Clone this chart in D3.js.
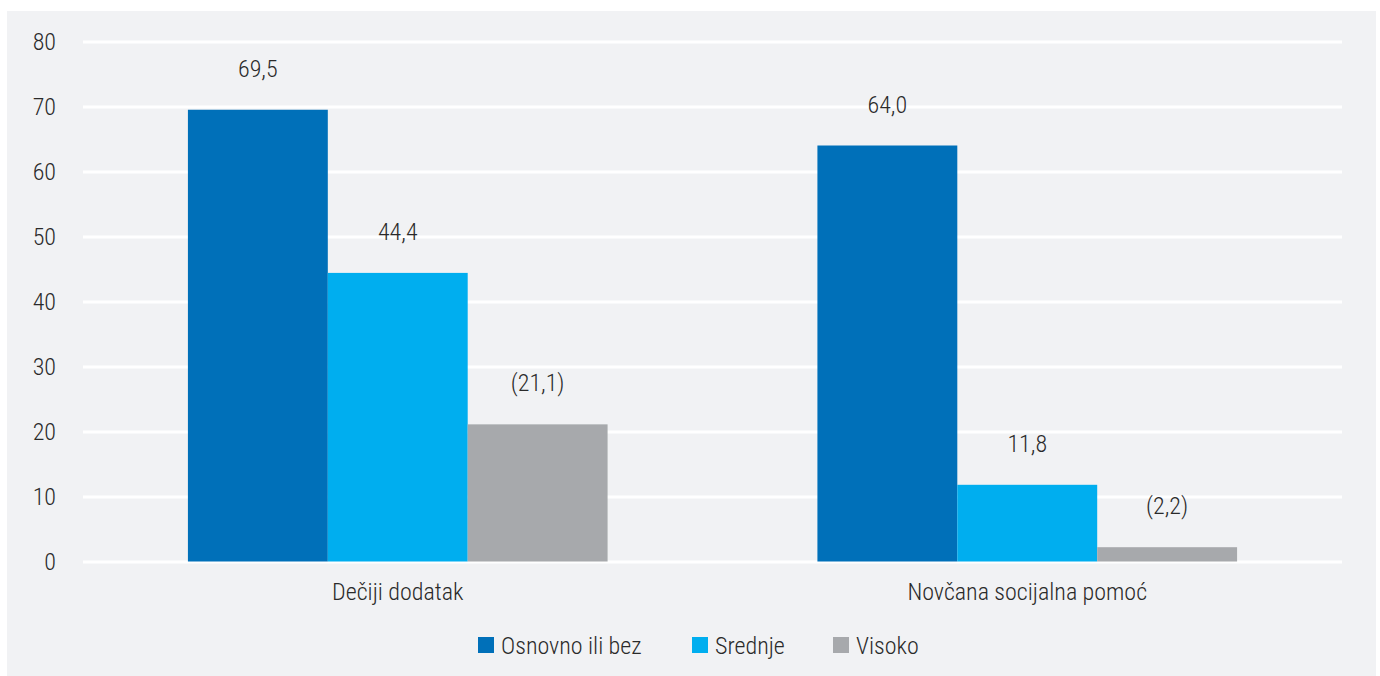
<!DOCTYPE html>
<html>
<head>
<meta charset="utf-8">
<script src="https://cdn.jsdelivr.net/npm/d3@7"></script>
<style>
  body { margin: 0; background: #fff; }
  svg text { font-family: "Roboto Condensed", "Liberation Sans Narrow", "DejaVu Sans Condensed", Roboto, sans-serif; font-weight: 300; fill: #2a2a2a; }
</style>
</head>
<body>
<svg id="chart" width="1380" height="676"></svg>
<script>
var categories = ["Dečiji dodatak", "Novčana socijalna pomoć"];
var series = ["Osnovno ili bez", "Srednje", "Visoko"];
var colors = ["#0070b9", "#00aeef", "#a7a9ac"];
var values = [
  [69.5, 44.4, 21.1],
  [64.0, 11.8, 2.2]
];
var labels = [
  ["69,5", "44,4", "(21,1)"],
  ["64,0", "11,8", "(2,2)"]
];
var yTicks = [0, 10, 20, 30, 40, 50, 60, 70, 80];
var fs = "24px";

var svg = d3.select("#chart");

// panel background
svg.append("rect")
  .attr("x", 7).attr("y", 11)
  .attr("width", 1369).attr("height", 665)
  .style("fill", "#f1f2f4");

var y = d3.scaleLinear().domain([0, 80]).range([561.5, 41.5]);
var x0 = d3.scaleBand().domain(categories).range([83, 1342])
  .paddingInner(1/3).paddingOuter(1/6);
var x1 = d3.scaleBand().domain(series).range([0, x0.bandwidth()]);

// grid
var yAxis = d3.axisLeft(y).tickValues(yTicks).tickSize(-(1342 - 83)).tickPadding(27)
  .tickFormat(d3.format("d"));
var gy = svg.append("g").attr("transform", "translate(83,0)").call(yAxis);
gy.select(".domain").remove();
gy.selectAll(".tick line").style("stroke", "#ffffff").style("stroke-width", 3);
gy.selectAll(".tick text").style("font-size", fs).style("fill", "#2a2a2a")
  .style("font-family", null);

// bars
var groups = svg.selectAll("g.grp")
  .data(values)
  .enter().append("g")
  .attr("class", "grp")
  .attr("transform", function(d, i) { return "translate(" + x0(categories[i]) + ",0)"; });

groups.selectAll("rect")
  .data(function(d) { return d; })
  .enter().append("rect")
  .attr("x", function(d, j) { return x1(series[j]); })
  .attr("y", function(d) { return y(d); })
  .attr("width", x1.bandwidth())
  .attr("height", function(d) { return y(0) - y(d); })
  .style("fill", function(d, j) { return colors[j]; });

groups.selectAll("text.val")
  .data(function(d, i) { return d.map(function(v, j) { return {v: v, t: labels[i][j]}; }); })
  .enter().append("text")
  .attr("class", "val")
  .attr("x", function(d, j) { return x1(series[j]) + x1.bandwidth() / 2; })
  .attr("y", function(d) { return y(d.v) - 33; })
  .attr("text-anchor", "middle")
  .style("font-size", fs)
  .text(function(d) { return d.t; });

// category labels
svg.selectAll("text.cat")
  .data(categories)
  .enter().append("text")
  .attr("class", "cat")
  .attr("x", function(d) { return x0(d) + x0.bandwidth() / 2; })
  .attr("y", 600)
  .attr("text-anchor", "middle")
  .style("font-size", fs)
  .text(function(d) { return d; });

// legend
var legendX = [478, 692, 833];
var leg = svg.selectAll("g.leg")
  .data(series)
  .enter().append("g")
  .attr("class", "leg")
  .attr("transform", function(d, i) { return "translate(" + legendX[i] + ",637)"; });
leg.append("rect")
  .attr("width", 16).attr("height", 16)
  .style("fill", function(d, i) { return colors[i]; });
leg.append("text")
  .attr("x", 23).attr("y", 17)
  .style("font-size", fs)
  .text(function(d) { return d; });
</script>
</body>
</html>
